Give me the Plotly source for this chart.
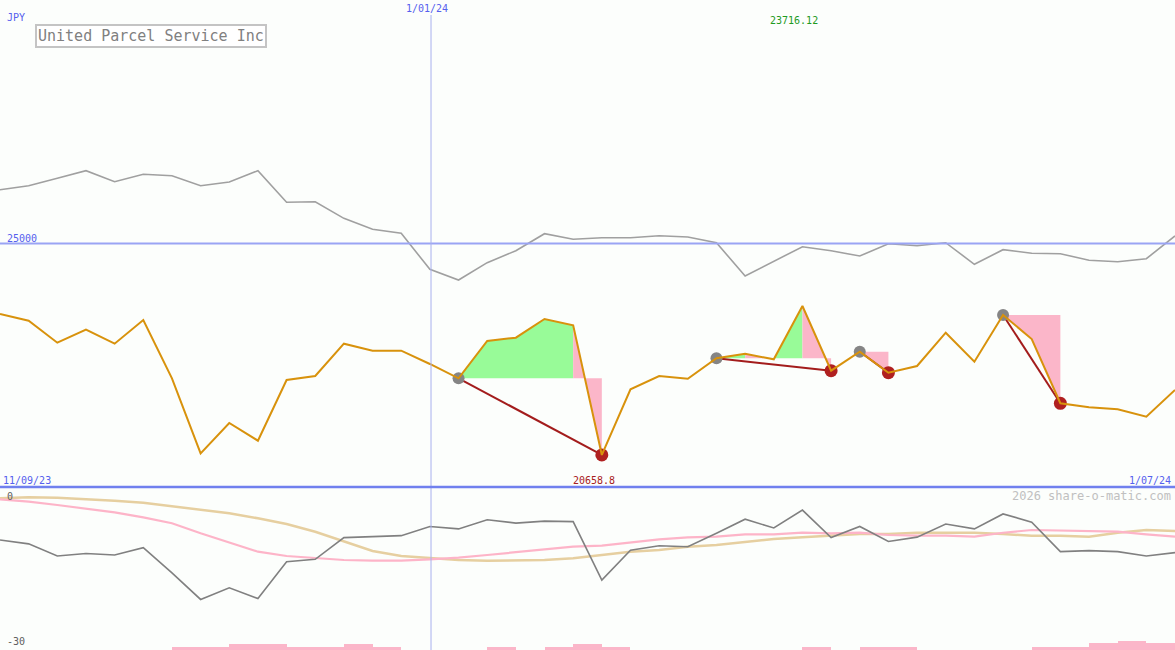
import plotly.graph_objects as go

# ---------------- data ----------------
n_points = 42
idx = list(range(n_points))

price = [23552, 23415, 22963, 23230, 22943, 23429, 22232, 20690, 21314, 20951,
         22197, 22279, 22943, 22799, 22799, 22526, 22232, 22998, 23066, 23450,
         23320, 20658.8, 22006, 22279, 22224, 22643, 22737, 22622, 23716.12, 22388,
         22778, 22347, 22485, 23168, 22573, 23532, 23039, 21719, 21636, 21595,
         21443, 21992]

compare = [26105, 26187, 26339, 26495, 26269, 26421, 26392, 26187, 26263, 26495,
           25846, 25858, 25517, 25292, 25209, 24470, 24250, 24606, 24852, 25201,
           25086, 25119, 25119, 25160, 25133, 25016, 24333, 24626, 24934, 24852,
           24743, 24996, 24955, 25016, 24573, 24873, 24799, 24790, 24655, 24626,
           24688, 25154]

momentum = [-8.9, -9.7, -12.2, -11.7, -12.0, -10.5, -15.7, -21.2, -18.8, -21.0,
            -13.4, -12.9, -8.4, -8.2, -8.0, -6.1, -6.6, -4.7, -5.4, -5.0,
            -5.1, -17.2, -11.0, -10.1, -10.3, -7.5, -4.6, -6.4, -2.7, -8.4,
            -6.1, -9.2, -8.3, -5.6, -6.6, -3.5, -5.2, -11.3, -11.1, -11.3,
            -12.2, -11.5]

avg_fast = [-0.48, -0.97, -1.66, -2.34, -3.17, -4.20, -5.44, -7.51, -9.37, -11.32,
            -12.21, -12.68, -13.04, -13.18, -13.18, -12.89, -12.56, -12.00, -11.44, -10.76,
            -10.28, -10.08, -9.37, -8.75, -8.34, -8.21, -7.72, -7.72, -7.39, -7.51,
            -7.39, -7.86, -8.01, -8.01, -8.21, -7.39, -6.83, -6.97, -6.97, -7.18,
            -7.72, -8.21]

avg_slow = [-0.27, -0.06, -0.14, -0.41, -0.77, -1.18, -1.86, -2.54, -3.37, -4.41,
            -5.59, -7.18, -9.25, -11.17, -12.21, -12.68, -13.04, -13.18, -13.18, -13.04,
            -12.68, -12.00, -11.32, -10.97, -10.28, -9.93, -9.25, -8.69, -8.34, -8.07,
            -7.66, -7.66, -7.39, -7.39, -7.39, -7.66, -8.01, -8.01, -8.21, -7.39,
            -6.83, -7.04]

# activity bars, one per interval [i, i+1]
activity = [0, 0, 0, 0, 0, 0, 0.68, 0.68, 1.24, 1.24,
            0.68, 0.68, 1.24, 0.68, 0, 0, 0, 0.68, 0, 0.68,
            1.24, 0.68, 0, 0, 0, 0, 0, 0, 0.68, 0,
            0.68, 0.68, 0, 0, 0, 0, 0.68, 0.68, 1.39, 1.86,
            1.39]

# trades: (start index, end index)
trades = [(16, 21), (25, 29), (30, 31), (35, 37)]

date_labels = ["11/09/23", "1/01/24", "1/07/24"]
year_mark_pos = 15.04
ref_level = 25000
price_range = [20000, 30000]
ind_range = [-31.66, 2.07]
title = "United Parcel Service Inc"
currency = "JPY"
max_label = "23716.12"
min_label = "20658.8"

# ---------------- styling ----------------
W, H = 1175, 650
BG = "#fcfefc"
BLUE_TXT = "#5560ee"
MONO = "DejaVu Sans Mono, Liberation Mono, monospace"
split = 1 - 487 / H

fig = go.Figure()

# gain / loss fills per trade segment
green_x, green_y, pink_x, pink_y = [], [], [], []
for s, e in trades:
    base = price[s]
    for k in range(s, e):
        xs = [idx[k], idx[k], idx[k + 1], idx[k + 1], idx[k], None]
        ys = [base, price[k], price[k + 1], base, base, None]
        if price[k + 1] >= base:
            green_x += xs; green_y += ys
        else:
            pink_x += xs; pink_y += ys

fig.add_trace(go.Scatter(x=green_x, y=green_y, fill="toself", fillcolor="#98fb98",
                         mode="none", hoverinfo="skip", showlegend=False))
fig.add_trace(go.Scatter(x=pink_x, y=pink_y, fill="toself", fillcolor="#fbb6c9",
                         mode="none", hoverinfo="skip", showlegend=False))

# comparison line
fig.add_trace(go.Scatter(x=idx, y=compare, mode="lines",
                         line=dict(color="#a0a0a0", width=1.6), showlegend=False))

# trade connecting lines
tx, ty = [], []
for s, e in trades:
    tx += [idx[s], idx[e], None]
    ty += [price[s], price[e], None]
fig.add_trace(go.Scatter(x=tx, y=ty, mode="lines",
                         line=dict(color="#a31c1c", width=2), showlegend=False))

# markers
fig.add_trace(go.Scatter(x=[idx[s] for s, e in trades], y=[price[s] for s, e in trades],
                         mode="markers", marker=dict(color="#858585", size=12),
                         showlegend=False))
fig.add_trace(go.Scatter(x=[idx[e] for s, e in trades], y=[price[e] for s, e in trades],
                         mode="markers", marker=dict(color="#b02020", size=13),
                         showlegend=False))

# price line
fig.add_trace(go.Scatter(x=idx, y=price, mode="lines",
                         line=dict(color="#d8920c", width=2), showlegend=False))

# ---- lower panel ----
fig.add_trace(go.Bar(x=[i + 0.5 for i in range(len(activity))], y=activity,
                     base=ind_range[0], width=1, yaxis="y2",
                     marker=dict(color="#fbb6c9", line=dict(width=0)), showlegend=False))
fig.add_trace(go.Scatter(x=idx, y=avg_slow, mode="lines", yaxis="y2",
                         line=dict(color="#e6cfa0", width=2.5), showlegend=False))
fig.add_trace(go.Scatter(x=idx, y=avg_fast, mode="lines", yaxis="y2",
                         line=dict(color="#fdb4c8", width=2.2), showlegend=False))
fig.add_trace(go.Scatter(x=idx, y=momentum, mode="lines", yaxis="y2",
                         line=dict(color="#808080", width=1.6), showlegend=False))

shapes = [
    dict(type="line", xref="paper", yref="y", x0=0, x1=1, y0=ref_level, y1=ref_level,
         line=dict(color="#9aa4f4", width=2)),
    dict(type="line", xref="x", yref="paper", x0=year_mark_pos, x1=year_mark_pos,
         y0=0, y1=1 - 15 / H, line=dict(color="#a8b0ee", width=1)),
    dict(type="line", xref="paper", yref="paper", x0=0, x1=1, y0=split, y1=split,
         line=dict(color="#7080ee", width=2.5)),
]


def ann(text, px, py, color, size=10, xanchor="left", **kw):
    return dict(text=text, x=px / W, y=1 - py / H, xref="paper", yref="paper",
                xanchor=xanchor, yanchor="middle", showarrow=False,
                font=dict(family=MONO, size=size, color=color), **kw)


annotations = [
    ann(currency, 5, 18, BLUE_TXT),
    ann(title, 150.5, 36, "#808080", size=15, xanchor="center",
        bordercolor="#c4c4c4", borderwidth=2, borderpad=1, bgcolor="#ffffff"),
    ann(date_labels[1], 427, 9, BLUE_TXT, xanchor="center"),
    ann(max_label, 794, 21, "#1f9a1f", xanchor="center"),
    ann(str(ref_level), 5, 238, BLUE_TXT),
    ann(date_labels[0], 1, 480, BLUE_TXT),
    ann(min_label, 594, 480, "#a82020", xanchor="center"),
    ann(date_labels[2], 1173, 480, BLUE_TXT, xanchor="right"),
    ann("0", 5, 496, "#606060"),
    ann("-30", 5, 641, "#606060"),
    ann("2026 share-o-matic.com", 1173, 496, "#c0c0c0", size=12, xanchor="right"),
]

fig.update_layout(
    width=W, height=H,
    margin=dict(l=0, r=0, t=0, b=0),
    paper_bgcolor=BG, plot_bgcolor=BG,
    showlegend=False,
    xaxis=dict(range=[0, n_points - 1], visible=False, fixedrange=True),
    yaxis=dict(domain=[split, 1], range=price_range, visible=False),
    yaxis2=dict(domain=[0, split], range=ind_range, visible=False, anchor="x"),
    shapes=shapes,
    annotations=annotations,
    bargap=0,
)

fig.write_html("out.html", config={"displayModeBar": False},
               post_script="document.body.style.margin='0';document.body.style.background='%s';" % BG)
